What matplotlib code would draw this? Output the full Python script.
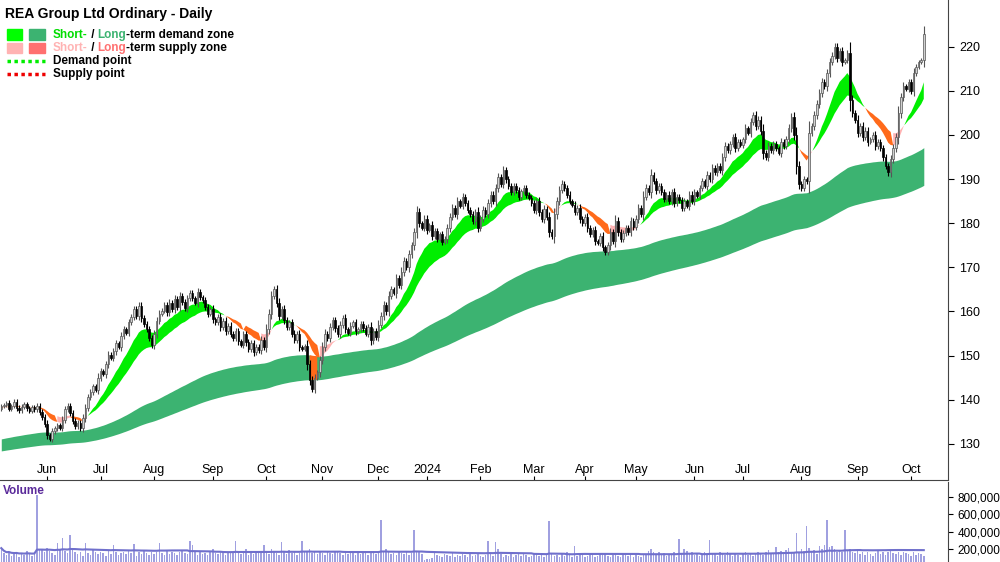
import numpy as np, pandas as pd, matplotlib
matplotlib.use("Agg")
import matplotlib.pyplot as plt
from matplotlib.patches import Rectangle
plt.rcParams['font.family'] = ['Liberation Sans', 'DejaVu Sans']

closes = [138.5,138.8,139.2,138.0,138.6,139.5,138.2,137.6,138.4,139.0,138.1,137.5,138.3,137.8,138.6,137.2,
136.0,134.5,132.0,131.2,132.8,133.5,134.2,133.6,
135.5,137.8,138.6,137.0,135.2,134.0,134.8,133.5,135.8,138.2,
140.5,141.8,143.0,142.2,145.0,146.5,145.8,148.0,150.2,149.5,
151.0,152.8,152.0,154.5,156.0,155.2,157.5,158.8,160.5,159.0,161.2,158.5,157.2,156.0,
154.0,152.5,155.0,157.8,159.5,
160.2,161.5,159.8,162.0,160.5,162.8,161.0,163.5,162.2,160.8,163.0,164.2,163.0,162.0,164.5,163.2,
162.5,161.0,159.5,160.5,158.2,157.5,158.8,156.5,157.8,155.5,156.8,155.0,
154.0,155.5,153.2,152.5,154.8,153.0,151.5,152.8,150.8,152.0,151.2,153.5,152.0,
156.0,159.5,163.5,165.0,162.0,159.0,160.5,
158.0,156.5,157.5,155.0,153.5,154.8,152.0,151.5,152.2,
148.0,144.5,142.5,145.0,146.2,149.0,
152.0,155.0,154.0,156.5,158.0,156.2,154.8,157.0,158.5,156.0,155.2,156.8,157.5,155.5,156.0,157.2,
156.2,155.0,156.5,153.5,155.5,154.2,157.0,
159.0,161.5,160.0,163.5,165.0,164.2,167.5,166.0,169.0,171.5,170.0,173.0,175.0,
178.0,182.5,180.0,179.0,181.0,178.5,
179.5,177.0,178.2,176.5,177.5,175.8,176.5,
179.0,181.5,183.5,182.0,185.0,184.0,186.0,184.5,183.0,
182.0,180.5,182.5,179.0,181.0,183.0,182.0,
184.5,186.5,185.0,188.0,190.5,189.0,192.0,190.0,188.5,
187.0,188.5,187.5,186.0,187.2,188.0,186.5,185.8,
184.5,183.0,185.0,182.5,181.0,183.2,181.5,178.0,177.0,
182.0,185.0,187.5,189.0,188.0,186.5,
185.0,184.2,182.5,183.5,181.0,180.0,181.5,179.0,
177.5,178.5,176.0,175.5,177.0,174.5,173.5,175.0,
178.0,176.0,180.5,178.0,176.5,177.8,179.0,
178.0,180.5,179.2,181.0,183.5,182.0,
186.0,188.0,187.0,191.0,189.5,187.5,188.5,
187.0,185.5,186.5,185.0,187.0,184.5,186.0,185.2,
183.5,185.0,184.0,186.5,185.0,187.0,186.2,188.0,
189.5,188.5,191.0,190.0,192.5,191.5,193.0,192.0,
195.0,197.5,196.5,198.0,199.5,197.0,198.5,197.8,
199.0,201.5,200.5,203.0,204.5,202.0,203.5,201.0,
196.0,195.0,197.5,196.5,198.0,197.0,196.0,
198.5,197.5,199.0,201.5,204.0,200.0,
193.0,189.0,188.0,190.0,189.5,
200.5,202.0,204.5,207.0,209.5,212.0,211.0,
214.0,216.5,218.0,220.0,217.5,219.0,216.5,217.0,218.5,
208.0,205.0,203.5,200.5,202.0,199.5,201.0,198.5,
199.0,200.0,197.5,198.5,197.0,195.0,193.0,191.5,
194.5,197.0,199.5,
205.0,208.5,211.0,210.5,212.0,
210.0,214.0,215.5,216.5,217.0,223.0]
first_open = 138.0

volumes_k = [210,150,130,170,120,140,160,110,150,130,180,140,120,160,820,200,190,170,210,180,
150,130,270,190,330,180,150,360,200,170,140,160,120,270,150,130,190,170,140,160,
150,120,180,140,250,160,130,150,170,140,190,150,260,120,160,140,180,150,130,170,
140,160,270,150,130,190,140,170,150,130,160,180,150,140,290,250,160,130,170,140,
150,130,170,200,150,140,160,180,130,150,170,160,290,170,140,150,200,130,160,140,
170,150,180,250,160,140,200,170,150,130,280,160,140,190,150,170,130,150,290,160,
180,200,150,170,140,160,150,130,170,150,140,160,180,150,130,170,140,160,150,130,
160,140,170,150,130,160,180,140,150,540,170,200,160,140,150,130,170,150,140,160,
130,150,420,180,160,140,70,80,90,100,150,130,120,110,140,130,120,150,110,130,
120,140,130,110,150,120,130,140,120,110,130,290,150,120,280,200,140,110,130,120,
140,110,130,150,120,140,130,110,120,150,140,120,130,110,140,520,150,120,130,110,
140,120,160,130,110,240,120,140,130,110,120,130,140,110,120,150,130,140,120,110,
130,140,120,110,150,130,120,140,110,130,120,110,140,130,180,200,160,140,170,130,
150,120,140,130,160,110,320,150,200,180,140,170,130,150,120,140,160,130,300,150,
140,120,170,150,130,160,140,120,150,130,110,140,160,130,150,120,140,170,150,130,
160,190,140,150,220,170,180,160,190,210,150,170,380,160,200,180,470,210,160,190,
140,230,200,250,530,220,240,200,170,190,160,420,180,200,170,150,190,140,160,130,
160,140,120,150,180,140,170,130,160,190,150,140,170,130,160,150,140,120,160,130,
150,140,120]

holidays = ['2023-06-12','2023-12-25','2023-12-26','2024-01-01','2024-01-26',
            '2024-03-29','2024-04-01','2024-04-25','2024-06-10']

n = len(closes)
c = np.array(closes)
dates = pd.bdate_range('2023-05-08', periods=n + 20)
dates = dates[~dates.isin(pd.to_datetime(holidays))][:n]
o = np.concatenate([[first_open], c[:-1]])
spread = np.abs(np.diff(np.concatenate([[first_open], c])))
hi = np.maximum(o, c) + 0.4 + 0.2 * spread
lo = np.minimum(o, c) - 0.4 - 0.2 * spread
vol = np.array(volumes_k[:n]) * 1000.0

def ema(x, span, seed=None):
    a = 2 / (span + 1)
    out = np.empty(len(x)); prev = x[0] if seed is None else seed
    for i, v in enumerate(x):
        prev = prev + a * (v - prev); out[i] = prev
    return out
sf, ss = ema(c, 13, 138.0), ema(c, 26, 138.5)
lf, ls = ema(c, 130, 131.0), ema(c, 220, 128.3)

fig = plt.figure(figsize=(10, 5.62), dpi=100)
ax = fig.add_axes([0, 82/562, 0.948, 480/562])
axv = fig.add_axes([0, 0, 0.948, 80/562])
axv.patch.set_alpha(0)
x = np.arange(n)

below = c < (lf + ls) / 2
ax.fill_between(x, lf, ls, color='#3cb371', lw=0)
ax.fill_between(x, lf, ls, color='#ff6a1a', lw=0, where=below)
gap = sf - ss
up = gap >= 0
conv = np.concatenate([[False], np.abs(gap[1:]) < np.abs(gap[:-1])])
ax.fill_between(x, sf, ss, where=up, color='#00ee00', lw=0, interpolate=True)
ax.fill_between(x, sf, ss, where=(~up) & (~conv), color='#ff6a1a', lw=0, interpolate=True)
ax.fill_between(x, sf, ss, where=(~up) & conv, color='#ffb3b3', lw=0, interpolate=True)

for i in range(n):
    upc = c[i] >= o[i]
    ax.vlines(i, lo[i], hi[i], color='#555555' if upc else 'black', lw=0.8, zorder=3)
    b0, b1 = min(o[i], c[i]), max(o[i], c[i])
    ax.add_patch(Rectangle((i - 0.3, b0), 0.6, max(b1 - b0, 0.15),
                 facecolor='#d0d0d0' if upc else 'black',
                 edgecolor='#555555' if upc else 'black', lw=0.5, zorder=4))

ax.set_xlim(-0.5, n + 8.5)
ax.set_ylim(121.8, 230.6)
ax.yaxis.tick_right()
ax.set_yticks(range(130, 230, 10))
ax.tick_params(axis='y', direction='out', length=4, labelsize=9, pad=4)
ms = pd.Series(x, index=dates).groupby([dates.year, dates.month]).first()
mpos = ms.values[1:]
mlab = ['2024' if (y == 2024 and m == 1) else pd.Timestamp(y, m, 1).strftime('%b') for (y, m) in ms.index[1:]]
ax.set_xticks(mpos)
ax.set_xticklabels([])
ax.tick_params(axis='x', length=3, direction='in')
for p, l in zip(mpos, mlab):
    ax.text(p, 0.008, l, transform=ax.get_xaxis_transform(), ha='center', va='bottom', fontsize=9)
for s in ['top', 'left']:
    ax.spines[s].set_visible(False)
ax.spines['right'].set_color('#444'); ax.spines['bottom'].set_color('#444')

ax.text(0.005, 0.985, 'REA Group Ltd Ordinary - Daily', transform=ax.transAxes,
        fontsize=10, fontweight='bold', va='top')
rows = [0.928, 0.9, 0.872, 0.846]
for y, c1, c2 in [(rows[0], '#00ff00', '#3cb371'), (rows[1], '#ffb3b3', '#ff7070')]:
    ax.add_patch(Rectangle((0.007, y - 0.011), 0.016, 0.022, transform=ax.transAxes, color=c1))
    ax.add_patch(Rectangle((0.031, y - 0.011), 0.016, 0.022, transform=ax.transAxes, color=c2))
ax.plot([0.007, 0.047], [rows[2]]*2, transform=ax.transAxes, color='#00ee00', lw=2.5, ls=(0, (1, 1)))
ax.plot([0.007, 0.047], [rows[3]]*2, transform=ax.transAxes, color='#ee0000', lw=2.5, ls=(0, (1, 1)))
rend = fig.canvas.get_renderer()
def seg(parts, y):
    xx = 0.056
    for t, col in parts:
        tt = ax.text(xx, y, t, transform=ax.transAxes, fontsize=8.5, fontweight='bold', color=col, va='center')
        xx += tt.get_window_extent(renderer=rend).width / ax.bbox.width
seg([('Short-', '#00dd00'), (' / ', 'black'), ('Long', '#3cb371'), ('-term demand zone', 'black')], rows[0])
seg([('Short-', '#ffb3b3'), (' / ', 'black'), ('Long', '#ff7070'), ('-term supply zone', 'black')], rows[1])
seg([('Demand point', 'black')], rows[2])
seg([('Supply point', 'black')], rows[3])

axv.bar(x, vol, width=0.6, color='#a0a0e0', lw=0)
axv.plot(x, pd.Series(vol).rolling(60, min_periods=1).mean(), color='#7070cc', lw=1.5)
axv.set_xlim(ax.get_xlim()); axv.set_ylim(50000, 973000)
axv.yaxis.tick_right()
axv.set_yticks([200000, 400000, 600000, 800000])
axv.set_yticklabels(['200,000', '400,000', '600,000', '800,000'], fontsize=8.5)
axv.set_xticks([])
for s in ['top', 'left', 'bottom']:
    axv.spines[s].set_visible(False)
axv.spines['right'].set_color('#444')
axv.text(0.003, 0.96, 'Volume', transform=axv.transAxes, color='#5a2a9a', fontsize=8.5, fontweight='bold', va='top')
fig.savefig('out.png', dpi=100)
